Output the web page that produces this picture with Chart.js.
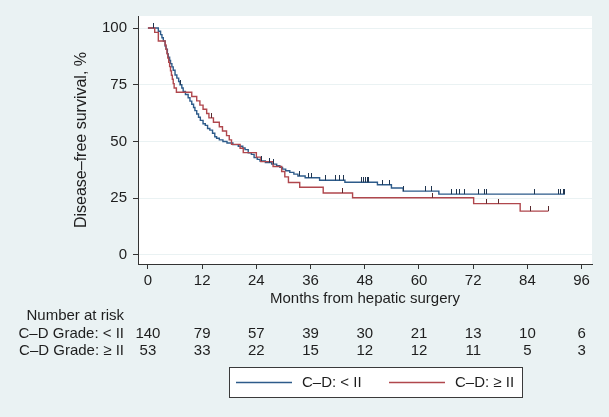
<!DOCTYPE html>
<html>
<head>
<meta charset="utf-8">
<script src="https://cdn.jsdelivr.net/npm/chart.js@4/dist/chart.umd.min.js"></script>
<style>
    html, body { margin: 0; padding: 0; background: #eaf2f3; }
    canvas { display: block; }
</style>
</head>
<body>
<canvas id="kmChart" width="609" height="417"></canvas>
<script>
// C-D grade < II (blue)
let lowGradeTime = [0, 2.3, 2.8, 3.1, 3.4, 3.8, 4.0, 4.3, 4.5, 4.8, 5.0, 5.3, 5.6, 6.0, 6.4, 6.8, 7.1, 7.5, 7.8, 8.3,
    8.9, 9.3, 9.7, 10.1, 10.4, 10.8, 11.2, 11.6, 12.2, 12.7, 13.2, 13.7, 14.3, 14.8, 15.2, 15.8, 16.6, 17.5, 18.8, 20.0,
    21.0, 21.5, 22.2, 22.9, 23.5, 24.2, 24.8, 26.0, 27.4, 28.5, 29.2, 29.8, 30.5, 31.4, 32.3, 33.2, 34.8, 38.0, 43.6, 50.8,
    53.9, 56.5, 64.4, 92.3];
let lowGradeSurv = [100, 98.6, 97.1, 95.7, 94.3, 92.1, 90.7, 88.6, 87.1, 85.7, 84.3, 82.9, 81.4, 79.3, 77.9, 76.4, 75.0, 73.6, 72.1, 70.7,
    69.3, 67.8, 66.4, 65.0, 63.6, 62.1, 60.7, 59.3, 57.8, 57.1, 55.7, 55.0, 53.6, 52.1, 51.4, 50.7, 50.0, 49.3, 48.6, 47.9,
    47.1, 46.4, 45.0, 44.3, 42.9, 42.1, 41.4, 40.7, 40.0, 39.3, 38.6, 37.8, 37.1, 36.4, 35.6, 34.8, 34.0, 32.9, 32.0, 30.9,
    29.5, 28.1, 26.8, 26.8];
let lowGradeCensor = [1.3, 7.1, 25.2, 27.0, 27.7, 33.6, 35.5, 36.2, 39.4, 41.5, 42.3, 43.2, 47.3, 47.7, 48.1, 48.5, 48.9,
    52.0, 53.4, 56.5, 61.5, 62.8, 67.2, 68.3, 68.9, 70.0, 73.1, 74.4, 75.0, 85.5, 90.8, 91.3, 91.9, 92.3];

// C-D grade >= II (red)
let highGradeTime = [0, 1.5, 2.3, 3.8, 4.0, 4.2, 4.4, 4.6, 4.8, 5.0, 5.2, 5.4, 5.6, 5.8, 6.3, 9.7, 10.8, 11.5, 12.2, 13.0,
    13.5, 14.5, 15.8, 16.5, 17.4, 18.0, 18.5, 20.4, 21.1, 24.0, 25.0, 27.7, 29.6, 30.3, 31.1, 33.6, 38.8, 45.3, 72.1, 82.4,
    88.6];
let highGradeSurv = [100, 98.1, 94.3, 92.5, 90.6, 88.7, 86.8, 84.9, 83.0, 81.1, 79.2, 77.4, 75.5, 73.6, 71.7, 69.8, 67.9, 66.0, 64.2, 62.3,
    60.4, 58.5, 56.5, 54.6, 52.6, 50.7, 48.7, 47.0, 45.1, 43.1, 41.1, 39.0, 36.8, 34.4, 31.9, 29.8, 27.3, 25.2, 22.6, 19.3,
    19.3];
let highGradeCensor = [14.1, 43.0, 62.9, 75.0, 77.7, 84.7, 88.6];

// number at risk table
let riskTimes = [0, 12, 24, 36, 48, 60, 72, 84, 96];
let riskLow = [140, 79, 57, 39, 30, 21, 13, 10, 6];
let riskHigh = [53, 33, 22, 15, 12, 12, 11, 5, 3];

let xTicks = [0, 12, 24, 36, 48, 60, 72, 84, 96];
let yTicks = [0, 25, 50, 75, 100];

let blue = "#2d5b8a";
let red = "#b0474d";
let textColor = "#1e1e1e";
let font = "Liberation Sans, Arial, sans-serif";

let survAt = (times, surv, t) => {
    var v = surv[0];
    for (var i = 0; i < times.length; i++) {
        if (times[i] <= t) v = surv[i];
    }
    return v;
};

let censorMark = (color) => {
    // little upward tick, like Stata's censoring marks
    var c = document.createElement("canvas");
    c.width = 1;
    c.height = 10;
    var g = c.getContext("2d");
    g.fillStyle = color;
    g.fillRect(0, 0, 1, 5);
    return c;
};

let backgroundPlugin = {
    id: "background",
    beforeDraw: (chart) => {
        var c = chart.ctx;
        var a = chart.chartArea;
        c.save();
        c.fillStyle = "#eaf2f3";
        c.fillRect(0, 0, chart.width, chart.height);
        c.fillStyle = "#ffffff";
        c.fillRect(a.left, a.top, a.right - a.left, a.bottom - a.top);
        c.restore();
    },
};

let riskTablePlugin = {
    id: "riskTable",
    afterDraw: (chart) => {
        var c = chart.ctx;
        var xs = chart.scales.x;
        c.save();
        c.font = "15px " + font;
        c.fillStyle = textColor;
        c.textBaseline = "middle";

        c.textAlign = "right";
        c.fillText("Number at risk", 124, 316);
        c.fillText("C\u2013D Grade: < II", 124, 334);
        c.fillText("C\u2013D Grade: \u2265 II", 124, 351);

        c.textAlign = "center";
        riskTimes.forEach((t, i) => {
            var px = xs.getPixelForValue(t);
            c.fillText(String(riskLow[i]), px, 334);
            c.fillText(String(riskHigh[i]), px, 351);
        });

        // legend box
        c.fillStyle = "#ffffff";
        c.fillRect(229.5, 367.5, 293, 30);
        c.strokeStyle = "#3a3a3a";
        c.lineWidth = 1;
        c.strokeRect(229.5, 367.5, 293, 30);

        c.lineWidth = 1.5;
        c.strokeStyle = blue;
        c.beginPath();
        c.moveTo(236, 382.5);
        c.lineTo(292, 382.5);
        c.stroke();
        c.strokeStyle = red;
        c.beginPath();
        c.moveTo(389, 382.5);
        c.lineTo(445, 382.5);
        c.stroke();

        c.fillStyle = textColor;
        c.textAlign = "left";
        c.fillText("C\u2013D: < II", 302, 383);
        c.fillText("C\u2013D: \u2265 II", 455, 383);
        c.restore();
    },
};

let drawChart = () => {
    var ctx = document.getElementById("kmChart").getContext("2d");
    var lowPoints = lowGradeTime.map((t, i) => ({ x: t, y: lowGradeSurv[i] }));
    var highPoints = highGradeTime.map((t, i) => ({ x: t, y: highGradeSurv[i] }));
    var lowCens = lowGradeCensor.map((t) => ({ x: t, y: survAt(lowGradeTime, lowGradeSurv, t) }));
    var highCens = highGradeCensor.map((t) => ({ x: t, y: survAt(highGradeTime, highGradeSurv, t) }));

    return new Chart(ctx, {
        type: "line",
        data: {
            datasets: [
                {
                    label: "C\u2013D: < II",
                    data: lowPoints,
                    stepped: "before",
                    borderColor: blue,
                    borderWidth: 1.4,
                    pointRadius: 0,
                    fill: false,
                    order: 3,
                },
                {
                    label: "C\u2013D: \u2265 II",
                    data: highPoints,
                    stepped: "before",
                    borderColor: red,
                    borderWidth: 1.4,
                    pointRadius: 0,
                    fill: false,
                    order: 2,
                },
                {
                    label: "censored < II",
                    data: lowCens,
                    showLine: false,
                    pointStyle: censorMark("#1f3550"),
                    order: 1,
                },
                {
                    label: "censored >= II",
                    data: highCens,
                    showLine: false,
                    pointStyle: censorMark("#5a2a2e"),
                    order: 1,
                },
            ],
        },
        options: {
            responsive: false,
            animation: false,
            layout: {
                padding: { top: 16, right: 17, bottom: 109, left: 0 },
            },
            plugins: {
                legend: { display: false },
                tooltip: { enabled: false },
            },
            scales: {
                x: {
                    type: "linear",
                    min: -2.2,
                    max: 98.3,
                    afterFit: (scale) => {
                        scale.height = 44;
                    },
                    afterBuildTicks: (scale) => {
                        scale.ticks = xTicks.map((v) => ({ value: v }));
                    },
                    grid: {
                        drawOnChartArea: false,
                        tickLength: 5,
                        tickColor: "#333333",
                    },
                    border: { display: true, color: "#333333", width: 1 },
                    ticks: {
                        autoSkip: false,
                        maxRotation: 0,
                        padding: 3,
                        color: textColor,
                        font: { family: font, size: 15 },
                    },
                    title: {
                        display: true,
                        text: "Months from hepatic surgery",
                        color: textColor,
                        font: { family: font, size: 15 },
                        padding: 0,
                    },
                },
                y: {
                    min: -4,
                    max: 105.3,
                    afterFit: (scale) => {
                        scale.width = 138;
                    },
                    afterBuildTicks: (scale) => {
                        scale.ticks = yTicks.map((v) => ({ value: v }));
                    },
                    grid: {
                        color: "#eaf2f3",
                        tickLength: 5,
                        tickColor: "#333333",
                    },
                    border: { display: true, color: "#333333", width: 1 },
                    ticks: {
                        padding: 6,
                        color: textColor,
                        font: { family: font, size: 15 },
                    },
                    title: {
                        display: true,
                        text: "Disease\u2013free survival, %",
                        color: textColor,
                        font: { family: font, size: 16 },
                        padding: { top: 72, bottom: 0 },
                    },
                },
            },
        },
        plugins: [backgroundPlugin, riskTablePlugin],
    });
};
drawChart();
</script>
</body>
</html>
